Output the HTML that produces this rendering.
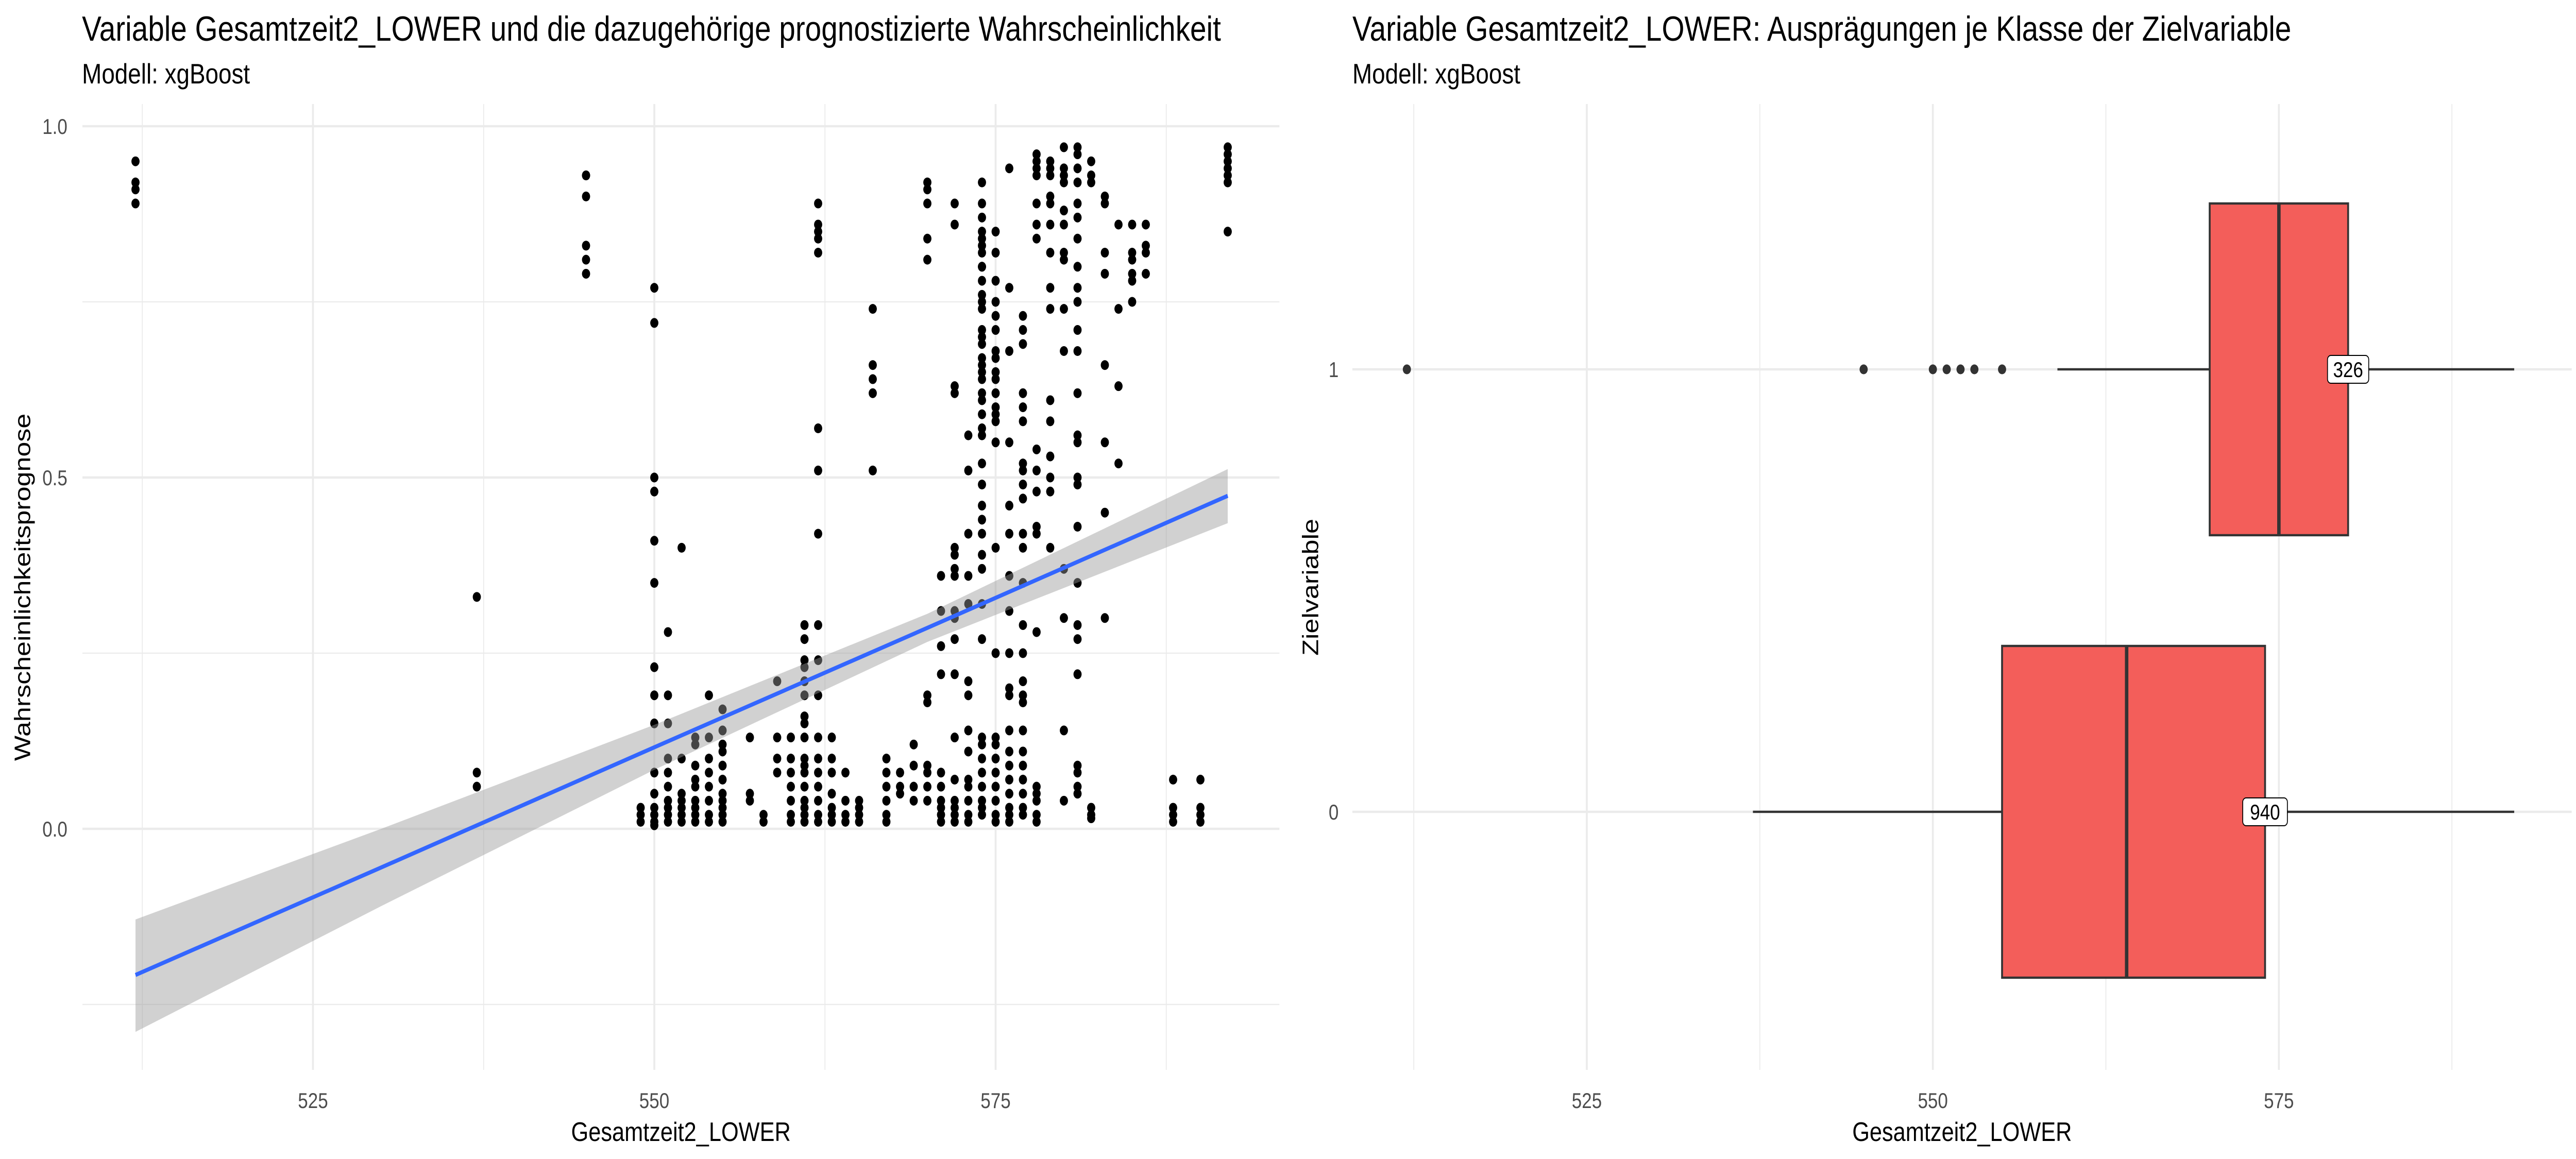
<!DOCTYPE html>
<html><head><meta charset="utf-8"><style>
html,body{margin:0;padding:0;background:#fff;width:100vw;height:100vh;overflow:hidden;}
svg{display:block;width:100vw;height:100vh;font-family:"Liberation Sans",Arial,sans-serif;}
</style></head><body>
<svg id="chart" viewBox="0 0 6000 2250" preserveAspectRatio="none">
<rect width="6000" height="2250" fill="#fff"/>
<g id="left"></g>
<g id="right"></g>
<text x="191" y="79" font-size="68" fill="#000">Variable Gesamtzeit2_LOWER und die dazugehörige prognostizierte Wahrscheinlichkeit</text>
<text x="191" y="162" font-size="55" fill="#000">Modell: xgBoost</text>
<text x="3150" y="79" font-size="68" fill="#000">Variable Gesamtzeit2_LOWER: Ausprägungen je Klasse der Zielvariable</text>
<text x="3150" y="162" font-size="55" fill="#000">Modell: xgBoost</text>
<text x="1586" y="2215" font-size="52" text-anchor="middle">Gesamtzeit2_LOWER</text>
<text x="4570" y="2215" font-size="52" text-anchor="middle">Gesamtzeit2_LOWER</text>
<text transform="translate(70,1140) rotate(-90)" font-size="52" text-anchor="middle">Wahrscheinlichkeitsprognose</text>
<text transform="translate(3070,1140) rotate(-90)" font-size="52" text-anchor="middle">Zielvariable</text>
</svg>
<script>
// ---------- left scatter data ----------
const colX = [512,537,545,549,550,551,552,553,554,555,557,558,559,560,561,562,563,564,565,566,567,568,569,570,571,572,573,574,575,576,577,578,579,580,581,582,583,584,585,586,588,590,592];
const colY = [
[.95,.92,.91,.89],
[.33,.08,.06],
[.93,.93,.90,.83,.81,.79],
[.03,.02,.01],
[.77,.72,.50,.48,.41,.35,.23,.19,.15,.08,.05,.03,.02,.01,.005],
[.28,.19,.15,.10,.08,.06,.04,.03,.02,.01],
[.40,.10,.05,.04,.03,.02,.01],
[.13,.12,.09,.07,.06,.04,.03,.02,.01],
[.19,.13,.10,.08,.06,.04,.02,.01],
[.17,.14,.12,.11,.09,.07,.05,.04,.03,.02,.01],
[.13,.05,.04],
[.02,.01],
[.21,.13,.10,.08],
[.13,.10,.08,.06,.04,.02,.01],
[.29,.27,.24,.23,.21,.19,.16,.15,.13,.10,.09,.08,.06,.04,.03,.02,.01],
[.89,.86,.85,.84,.82,.57,.51,.42,.29,.24,.19,.13,.10,.08,.06,.04,.02,.01],
[.13,.10,.08,.05,.03,.02,.01],
[.08,.04,.02,.01],
[.04,.03,.02,.01],
[.74,.66,.64,.62,.51],
[.10,.08,.06,.04,.02,.01],
[.08,.06,.05],
[.12,.09,.06,.04],
[.92,.91,.89,.84,.81,.19,.18,.09,.08,.06,.04],
[.36,.31,.26,.22,.08,.06,.04,.03,.02,.01],
[.89,.86,.63,.62,.40,.39,.37,.36,.31,.30,.27,.22,.13,.07,.04,.03,.02,.01],
[.56,.51,.42,.36,.32,.21,.19,.14,.11,.07,.06,.04,.02,.01],
[.92,.89,.87,.85,.84,.83,.82,.80,.80,.78,.76,.75,.74,.71,.70,.69,.67,.66,.65,.64,.62,.61,.59,.57,.56,.52,.49,.46,.44,.42,.39,.37,.32,.27,.13,.12,.10,.08,.06,.04,.03,.02],
[.85,.82,.78,.75,.73,.71,.68,.67,.65,.64,.62,.60,.59,.58,.55,.40,.25,.13,.12,.10,.08,.06,.04,.02,.01],
[.94,.77,.68,.55,.46,.42,.36,.31,.25,.20,.19,.14,.11,.09,.07,.05,.03,.02,.01],
[.73,.71,.69,.62,.60,.58,.52,.51,.49,.47,.42,.40,.35,.29,.25,.21,.19,.18,.14,.11,.09,.07,.05,.03,.02],
[.96,.95,.94,.93,.89,.86,.84,.54,.51,.48,.43,.42,.28,.06,.05,.04,.02,.01],
[.95,.94,.93,.90,.89,.86,.82,.77,.74,.61,.58,.53,.50,.48,.40],
[.97,.94,.93,.92,.88,.86,.82,.81,.74,.68,.37,.30,.14,.04],
[.97,.96,.94,.92,.89,.87,.84,.80,.77,.75,.71,.68,.62,.56,.55,.50,.49,.43,.35,.29,.27,.22,.09,.08,.06,.05],
[.95,.93,.92,.03,.02,.015],
[.90,.89,.82,.79,.66,.55,.45,.30],
[.86,.74,.63,.52],
[.86,.82,.81,.79,.78,.75],
[.86,.83,.82,.79],
[.07,.03,.02,.01],
[.07,.03,.02,.01],
[.97,.96,.95,.94,.93,.92,.85]
];
const ciX = [512,530,550,570,592];
const ciFit = [-0.208,-0.055,0.116,0.286,0.474];
const ciLo = [-0.289,-0.110,0.084,0.266,0.435];
const ciHi = [-0.129,-0.000,0.148,0.306,0.512];
const leftXTicks = [525,550,575];
const leftXTickLabels = ["525","550","575"];
const leftYTicks = [0,0.5,1];
const leftYTickLabels = ["0.0","0.5","1.0"];

// ---------- right boxplot data ----------
const boxClasses = ["0","1"];
const boxLowWhisker = [537,559];
const boxQ1 = [555,570];
const boxMedian = [564,575];
const boxQ3 = [574,580];
const boxHighWhisker = [592,592];
const boxCounts = ["940","326"];
const outlierClass1 = [512,545,550,551,552,553,555];
const rightXTicks = [525,550,575];
const rightXTickLabels = ["525","550","575"];

const NS = "http://www.w3.org/2000/svg";
function mk(tag, attrs, parent){const e=document.createElementNS(NS,tag);for(const k in attrs)e.setAttribute(k,attrs[k]);parent.appendChild(e);return e;}

// left axes
const lx = v => 729 + (v-525)*31.8;
const ly = v => 1609 - v*1364;
const L = document.getElementById('left');
const LP = {x0:192,x1:2980,y0:202,y1:2077};
[-0.25,0.25,0.75].forEach(v=>{const e=mk('line',{x1:LP.x0,x2:LP.x1,y1:ly(v),y2:ly(v),stroke:'#ebebeb','stroke-width':2.2},L);
});
[512.5,537.5,562.5,587.5].forEach(v=>{const e=mk('line',{x1:lx(v),x2:lx(v),y1:LP.y0,y2:LP.y1,stroke:'#ebebeb','stroke-width':2.2},L);
});
leftYTicks.forEach((v,i)=>{const e=mk('line',{x1:LP.x0,x2:LP.x1,y1:ly(v),y2:ly(v),stroke:'#ebebeb','stroke-width':4.4},L);

const t=mk('text',{x:157,y:ly(v)+15,'font-size':42,fill:'#4d4d4d','text-anchor':'end'},L);t.textContent=leftYTickLabels[i];
});
leftXTicks.forEach((v,i)=>{const e=mk('line',{x1:lx(v),x2:lx(v),y1:LP.y0,y2:LP.y1,stroke:'#ebebeb','stroke-width':4.4},L);

const t=mk('text',{x:lx(v),y:2151,'font-size':42,fill:'#4d4d4d','text-anchor':'middle'},L);t.textContent=leftXTickLabels[i];
});
// points
colX.forEach((x,i)=>{colY[i].forEach(y=>{const c=mk('circle',{cx:lx(x),cy:ly(y),r:9.5,fill:'#000'},L);
});});
// CI band
let pts=ciX.map((x,i)=>lx(x)+','+ly(ciHi[i])).concat(ciX.slice().reverse().map((x,j)=>{const i=ciX.length-1-j;return lx(x)+','+ly(ciLo[i]);}));
const band=mk('polygon',{points:pts.join(' '),fill:'#999999','fill-opacity':0.45},L);

const fit=mk('polyline',{points:ciX.map((x,i)=>lx(x)+','+ly(ciFit[i])).join(' '),fill:'none',stroke:'#3366ff','stroke-width':8},L);


// right axes
const rx = v => 3696 + (v-525)*32.24;
const ry = k => 1576 - k*859;
const R = document.getElementById('right');
const RP = {x0:3150,x1:5990,y0:202,y1:2077};
[512.5,537.5,562.5,587.5].forEach(v=>{const e=mk('line',{x1:rx(v),x2:rx(v),y1:RP.y0,y2:RP.y1,stroke:'#ebebeb','stroke-width':2.2},R);
});
rightXTicks.forEach((v,i)=>{const e=mk('line',{x1:rx(v),x2:rx(v),y1:RP.y0,y2:RP.y1,stroke:'#ebebeb','stroke-width':4.4},R);

const t=mk('text',{x:rx(v),y:2151,'font-size':42,fill:'#4d4d4d','text-anchor':'middle'},R);t.textContent=rightXTickLabels[i];
});
boxClasses.forEach((c,k)=>{const e=mk('line',{x1:RP.x0,x2:RP.x1,y1:ry(k),y2:ry(k),stroke:'#ebebeb','stroke-width':4.4},R);

const t=mk('text',{x:3118,y:ry(k)+15,'font-size':42,fill:'#4d4d4d','text-anchor':'end'},R);t.textContent=c;
});
boxClasses.forEach((c,k)=>{const cy=ry(k),h=322;
const w1=mk('line',{x1:rx(boxLowWhisker[k]),x2:rx(boxQ1[k]),y1:cy,y2:cy,stroke:'#333','stroke-width':4.4},R);

const w2=mk('line',{x1:rx(boxQ3[k]),x2:rx(boxHighWhisker[k]),y1:cy,y2:cy,stroke:'#333','stroke-width':4.4},R);

const b=mk('rect',{x:rx(boxQ1[k]),y:cy-h,width:rx(boxQ3[k])-rx(boxQ1[k]),height:2*h,fill:'#f35e5a',stroke:'#333','stroke-width':4.4},R);

const m=mk('line',{x1:rx(boxMedian[k]),x2:rx(boxMedian[k]),y1:cy-h,y2:cy+h,stroke:'#333','stroke-width':8},R);

const lw=c==="0"?104:96;
const lb=mk('rect',{x:rx(boxQ3[k])-lw/2,y:cy-27,width:lw,height:54,rx:8,fill:'#fff',stroke:'#000','stroke-width':2},R);

const lt=mk('text',{x:rx(boxQ3[k]),y:cy+15,'font-size':42,'text-anchor':'middle',fill:'#000'},R);lt.textContent=boxCounts[k];
});
outlierClass1.forEach(v=>{const o=mk('circle',{cx:rx(v),cy:ry(1),r:9.5,fill:'#333'},R);
});
</script>
</body></html>
